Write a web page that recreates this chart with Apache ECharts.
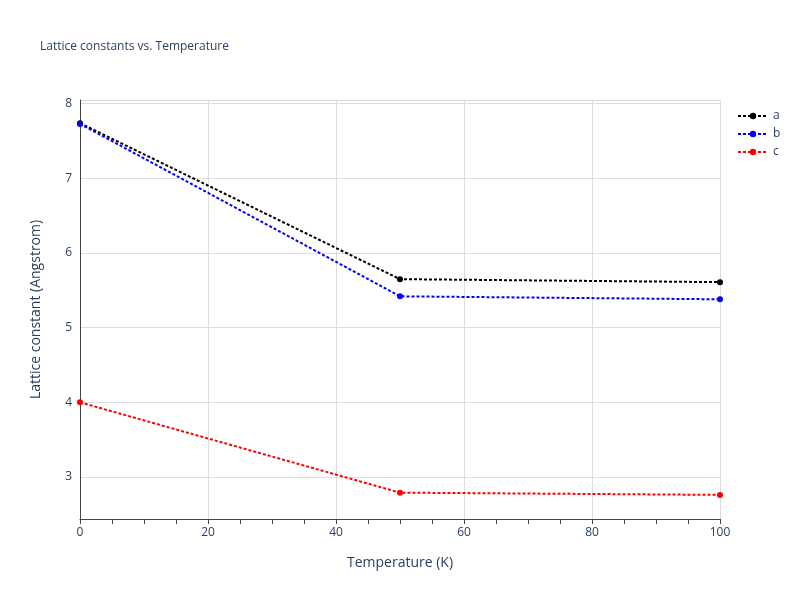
<!DOCTYPE html>
<html><head><meta charset="utf-8">
<script src="https://cdn.jsdelivr.net/npm/echarts@6/dist/echarts.min.js"></script>
<style>body{margin:0}#c{width:800px;height:600px}</style>
</head><body><div id="c"></div>
<script>
const temps = [0, 50, 100];
const aVals = [7.74, 5.65, 5.61];
const bVals = [7.73, 5.42, 5.38];
const cVals = [4.0, 2.79, 2.76];
const names = ["a", "b", "c"];
const colors = ["#000000", "#0000ff", "#ff0000"];

const chart = echarts.init(document.getElementById("c"));
const mk = (name, vals, color) => ({
  name, type: "line", data: temps.map((t, i) => [t, vals[i]]),
  symbol: "circle", symbolSize: 6, itemStyle: { color },
  lineStyle: { color, width: 2, type: [3, 2] }
});
chart.setOption({
  textStyle: { fontFamily: "Open Sans, sans-serif" },
  title: { text: "Lattice constants vs. Temperature", left: 35, top: 36,
    textStyle: { fontSize: 12, fontWeight: "normal", color: "#2a3f5f" } },
  legend: { orient: "vertical", left: 732, top: 105, itemGap: 6, itemWidth: 30, itemHeight: 8,
    data: names, textStyle: { color: "#2a3f5f", fontSize: 12 } },
  grid: { left: 80, right: 80, top: 100, bottom: 81 },
  xAxis: { type: "value", min: 0, max: 100, interval: 20,
    name: "Temperature (K)", nameLocation: "middle", nameGap: 37,
    nameTextStyle: { color: "#2a3f5f", fontSize: 14 },
    axisLine: { lineStyle: { color: "#444" } },
    axisTick: { show: true, length: 5, lineStyle: { color: "#444" } },
    minorTick: { show: true, splitNumber: 4, length: 5, lineStyle: { color: "#444" } },
    axisLabel: { color: "#2a3f5f", fontSize: 12 },
    splitLine: { lineStyle: { color: "#dddddd" } } },
  yAxis: { type: "value", min: 2.437, max: 8.05,
    name: "Lattice constant (Angstrom)", nameLocation: "middle", nameGap: 37,
    nameTextStyle: { color: "#2a3f5f", fontSize: 14 },
    axisLine: { show: true, lineStyle: { color: "#444" } },
    axisTick: { show: false },
    axisLabel: { color: "#2a3f5f", fontSize: 12, showMinLabel: false, showMaxLabel: false,
      formatter: v => Number.isInteger(v) ? v : "" },
    splitLine: { lineStyle: { color: "#dddddd" } } },
  series: [mk("a", aVals, colors[0]), mk("b", bVals, colors[1]), mk("c", cVals, colors[2])]
});
</script></body></html>
